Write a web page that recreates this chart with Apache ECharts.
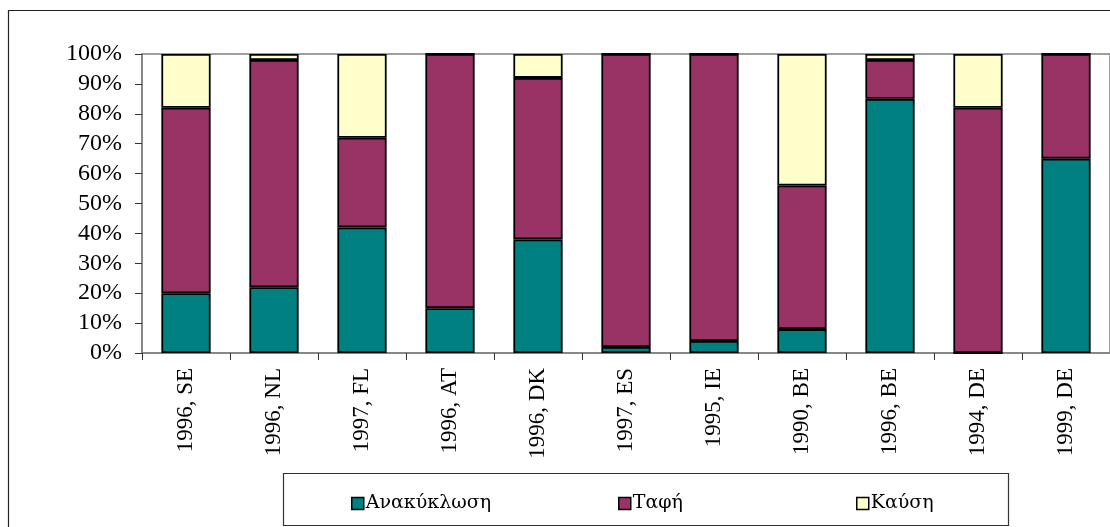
<!DOCTYPE html>
<html>
<head>
<meta charset="utf-8">
<script src="https://cdn.jsdelivr.net/npm/echarts@6/dist/echarts.min.js"></script>
<style>html,body{margin:0;padding:0;background:#fff}#c{width:1110px;height:527px}</style>
</head>
<body>
<div id="c"></div>
<script>
const categories = ['1996, SE','1996, NL','1997, FL','1996, AT','1996, DK','1997, ES','1995, IE','1990, BE','1996, BE','1994, DE','1999, DE'];
const recycling = [20, 22, 42, 15, 38, 2, 4, 8, 85, 0, 65];
const landfill  = [62, 76, 30, 85, 54, 98, 96, 48, 13, 82, 35];
const incineration = [18, 2, 28, 0, 8, 0, 0, 44, 2, 18, 0];
const seriesNames = ['Ανακύκλωση', 'Ταφή', 'Καύση'];
const yTicks = [0,10,20,30,40,50,60,70,80,90,100];

const font = "Liberation Serif";
const greekFont = "DejaVu Serif";
const colors = ['#008080', '#993366', '#FFFFCC'];
const chart = echarts.init(document.getElementById('c'));

function legendFor(name, left) {
  return {
    data: [name], left: left, top: 489, itemWidth: 12, itemHeight: 12, itemGap: 0,
    icon: 'rect', selectedMode: false,
    itemStyle: { borderColor: '#000', borderWidth: 1.5 },
    textStyle: { fontFamily: greekFont, fontSize: 19, color: '#000', padding: [0,0,0,-3] }
  };
}

chart.setOption({
  animation: false,
  backgroundColor: '#fff',
  color: colors,
  graphic: [
    { type: 'rect', shape: { x: 8.5, y: 10.5, width: 1120, height: 540 }, style: { fill: 'none', stroke: '#222', lineWidth: 1.2 }, z: -1 },
    { type: 'rect', shape: { x: 283.5, y: 473.5, width: 725, height: 52 }, style: { fill: '#fff', stroke: '#333', lineWidth: 1.2 }, z: 0 }
  ],
  legend: [legendFor(seriesNames[0], 346), legendFor(seriesNames[1], 613), legendFor(seriesNames[2], 851)],
  grid: { left: 142, top: 54, width: 972, height: 299, show: true, borderColor: '#808080', borderWidth: 1.5, backgroundColor: 'transparent' },
  xAxis: {
    type: 'category', data: categories,
    axisLine: { lineStyle: { color: '#808080', width: 1.5 } },
    axisTick: { show: true, length: 7, lineStyle: { color: '#333' } },
    axisLabel: { rotate: 90, margin: 15, fontFamily: font, fontSize: 23, color: '#000' }
  },
  yAxis: {
    type: 'value', min: 0, max: 100, interval: 10,
    axisLine: { show: true, lineStyle: { color: '#808080', width: 1.5 } },
    axisTick: { show: true, length: 7, lineStyle: { color: '#333' } },
    splitLine: { show: false },
    axisLabel: { margin: 20, fontFamily: font, fontSize: 24, color: '#000',
      formatter: v => yTicks.includes(v) ? v + '%' : '' }
  },
  series: [recycling, landfill, incineration].map((d, i) => ({
    type: 'bar', name: seriesNames[i], stack: 'total', data: d, barWidth: '56%',
    itemStyle: { color: colors[i], borderColor: '#000', borderWidth: 1.8 }
  }))
});
</script>
</body>
</html>
